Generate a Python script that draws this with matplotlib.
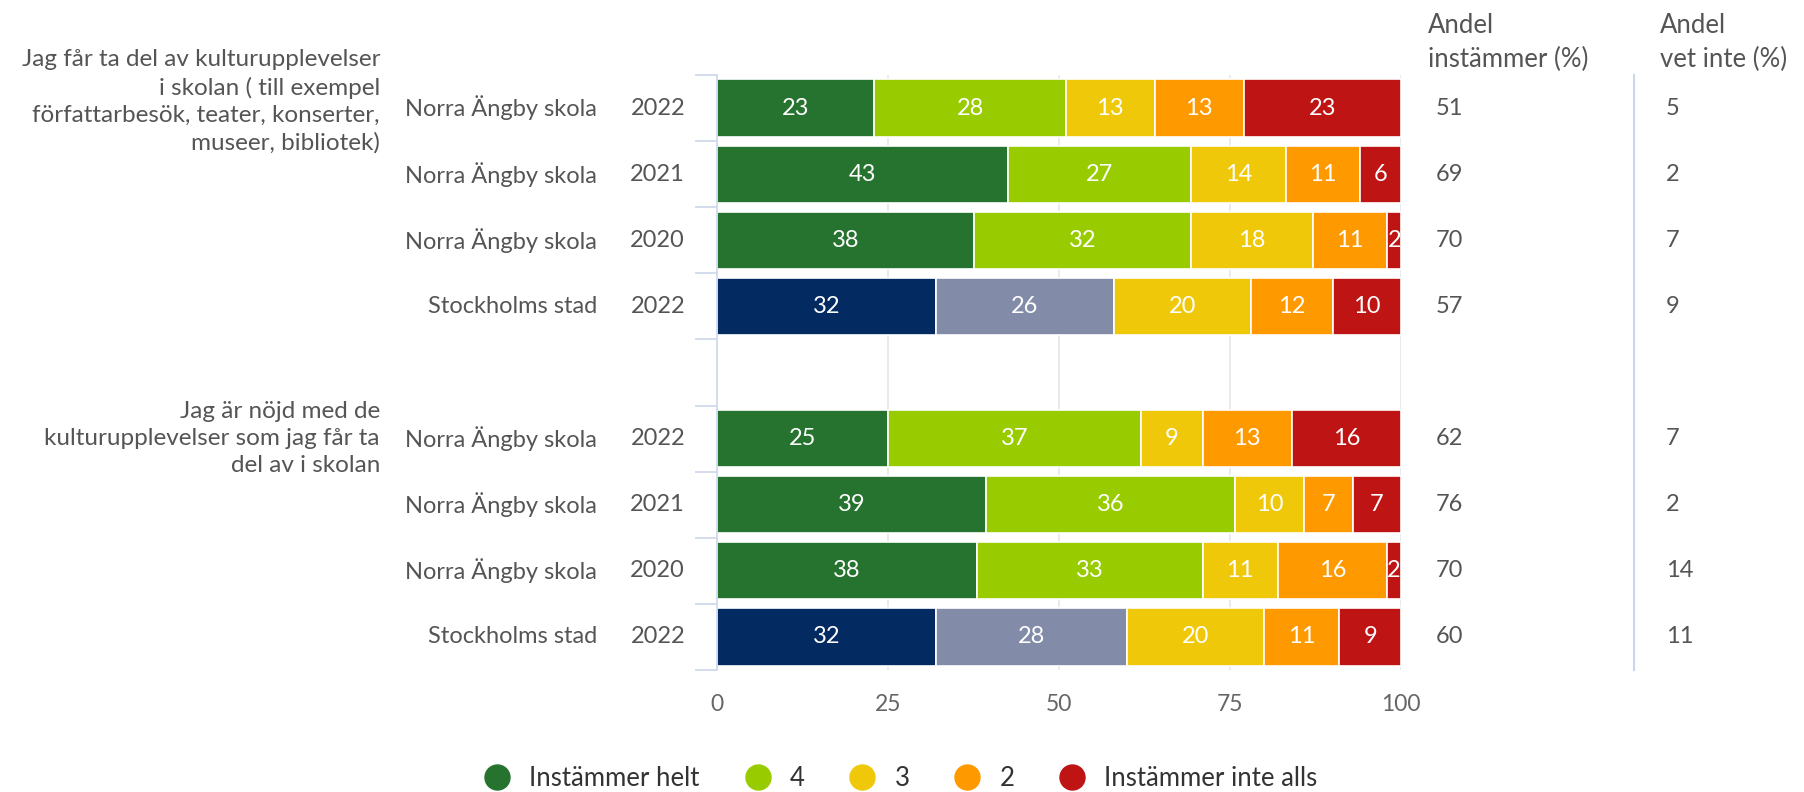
import matplotlib
matplotlib.use("Agg")
import matplotlib.pyplot as plt
import matplotlib.transforms as mtransforms
from matplotlib.lines import Line2D
import numpy as np

plt.rcParams['font.family'] = ['Lato', 'DejaVu Sans']

# ---------------- data ----------------
questions = [
    "Jag får ta del av kulturupplevelser\ni skolan ( till exempel\nförfattarbesök, teater, konserter,\nmuseer, bibliotek)",
    "Jag är nöjd med de\nkulturupplevelser som jag får ta\ndel av i skolan",
]
units = ["Norra Ängby skola", "Norra Ängby skola", "Norra Ängby skola", "Stockholms stad"]
years = ["2022", "2021", "2020", "2022"]
series_names = ["Instämmer helt", "4", "3", "2", "Instämmer inte alls"]

q1_values = [
    [23, 28, 13, 13, 23],
    [43, 27, 14, 11, 6],
    [38, 32, 18, 11, 2],
    [32, 26, 20, 12, 10],
]
q2_values = [
    [25, 37, 9, 13, 16],
    [39, 36, 10, 7, 7],
    [38, 33, 11, 16, 2],
    [32, 28, 20, 11, 9],
]
q1_andel_instammer = [51, 69, 70, 57]
q2_andel_instammer = [62, 76, 70, 60]
q1_andel_vet_inte = [5, 2, 7, 9]
q2_andel_vet_inte = [7, 2, 14, 11]

header_instammer = "Andel\ninstämmer (%)"
header_vet_inte = "Andel\nvet inte (%)"
x_ticks = [0, 25, 50, 75, 100]

# ---------------- style ----------------
colors_school = ["#267330", "#99cc00", "#f0c80a", "#ff9900", "#bf1414"]
colors_city = ["#032a61", "#828ca8", "#f0c80a", "#ff9900", "#bf1414"]
text_col = "#555555"
axis_col = "#ccd6eb"
grid_col = "#e6e6e6"
fs = 17

W, H = 1804, 792
fig = plt.figure(figsize=(W / 100, H / 100), dpi=100)

ax_left, ax_right, ax_top, ax_bottom = 717, 1401, 75, 670
ax = fig.add_axes([ax_left / W, 1 - ax_bottom / H, (ax_right - ax_left) / W, (ax_bottom - ax_top) / H])

groups = [q1_values, q2_values]
instammer = [q1_andel_instammer, q2_andel_instammer]
vet_inte = [q1_andel_vet_inte, q2_andel_vet_inte]

n_slots = len(units) * 2 + 1
bar_h = 0.864

trans_fig_x = mtransforms.blended_transform_factory(fig.transFigure, ax.transData)

for g, vals in enumerate(groups):
    base = g * (len(units) + 1)
    for r, row in enumerate(vals):
        y = base + r
        row = np.array(row, dtype=float)
        pct = row / row.sum() * 100
        cols = colors_city if units[r].startswith("Stockholm") else colors_school
        left = 0.0
        for k, (p, v) in enumerate(zip(pct, row)):
            ax.barh(y, p, left=left, height=bar_h, color=cols[k], edgecolor="white",
                    linewidth=1.2, zorder=3)
            ax.text(left + p / 2, y, f"{int(v)}", ha="center", va="center", color="white",
                    fontsize=fs, zorder=4)
            left += p
        # row labels
        ax.text(597 / W, y, units[r], transform=trans_fig_x, ha="right", va="center",
                fontsize=fs, color=text_col)
        ax.text(685 / W, y, years[r], transform=trans_fig_x, ha="right", va="center",
                fontsize=fs, color=text_col)
        ax.text(1436 / W, y, f"{instammer[g][r]}", transform=trans_fig_x, ha="left",
                va="center", fontsize=fs, color=text_col)
        ax.text(1666 / W, y, f"{vet_inte[g][r]}", transform=trans_fig_x, ha="left",
                va="center", fontsize=fs, color=text_col)
    ax.text(380 / W, base - (0.1 if g == 0 else 0.0), questions[g], transform=trans_fig_x,
            ha="right", va="center", fontsize=17.5, color=text_col, linespacing=1.36,
            multialignment="right")

ax.set_xlim(0, 100)
ax.set_ylim(n_slots - 0.5, -0.5)

for xv in x_ticks[1:]:
    ax.axvline(xv, color=grid_col, lw=1.2, zorder=1)
for s in ["top", "right", "bottom"]:
    ax.spines[s].set_visible(False)
ax.spines["left"].set_color(axis_col)
ax.spines["left"].set_linewidth(1.2)
ax.spines["left"].set_zorder(5)

ax.set_yticks(np.arange(-0.5, n_slots, 1.0))
ax.set_yticklabels([])
ax.tick_params(axis="y", direction="out", length=15.5, color=axis_col, width=1.2)
ax.set_xticks(x_ticks)
ax.set_xticklabels([str(t) for t in x_ticks])
ax.tick_params(axis="x", length=0, pad=17, labelsize=16.5, labelcolor="#666666")

# separator line between right columns
fig.add_artist(Line2D([1634 / W, 1634 / W], [1 - ax_top / H, 1 - ax_bottom / H],
                      color=axis_col, lw=1.5))

# headers
fig.text(1428 / W, 1 - 13 / H, header_instammer, ha="left", va="top", fontsize=18.5,
         color=text_col, linespacing=1.42)
fig.text(1660 / W, 1 - 13 / H, header_vet_inte, ha="left", va="top", fontsize=18.5,
         color=text_col, linespacing=1.42)

# legend
handles = [Line2D([], [], marker="o", ls="", markersize=18, color=c) for c in colors_school]
fig.legend(handles, series_names, ncol=5, loc="center", bbox_to_anchor=(901 / W, 1 - 778 / H),
           frameon=False, fontsize=18.5, labelcolor="#333333", handletextpad=0.75,
           columnspacing=1.75, handlelength=1.0)

fig.savefig("out.png", dpi=100, facecolor="white")
